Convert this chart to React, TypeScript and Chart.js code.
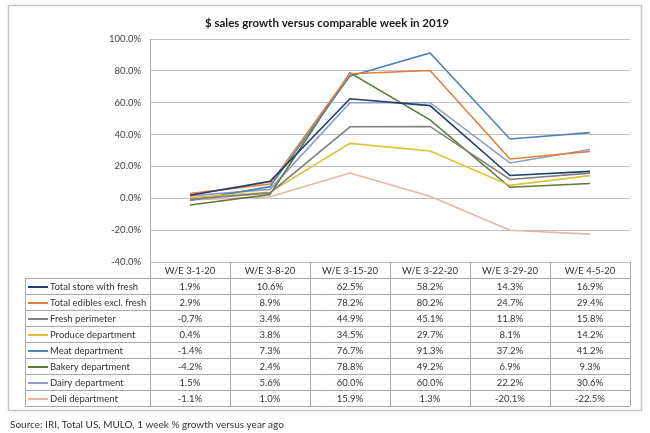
import React, { useEffect, useRef } from "react";
import { Chart, registerables } from "chart.js";

Chart.register(...registerables);

const title = "$ sales growth versus comparable week in 2019";
const source = "Source: IRI, Total US, MULO, 1 week % growth versus year ago";
const categories = ["W/E 3-1-20", "W/E 3-8-20", "W/E 3-15-20", "W/E 3-22-20", "W/E 3-29-20", "W/E 4-5-20"];

const seriesNames = [
  "Total store with fresh",
  "Total edibles excl. fresh",
  "Fresh perimeter",
  "Produce department",
  "Meat department",
  "Bakery department",
  "Dairy department",
  "Deli department",
];
const totalStore = [1.9, 10.6, 62.5, 58.2, 14.3, 16.9];
const totalEdibles = [2.9, 8.9, 78.2, 80.2, 24.7, 29.4];
const freshPerimeter = [-0.7, 3.4, 44.9, 45.1, 11.8, 15.8];
const produce = [0.4, 3.8, 34.5, 29.7, 8.1, 14.2];
const meat = [-1.4, 7.3, 76.7, 91.3, 37.2, 41.2];
const bakery = [-4.2, 2.4, 78.8, 49.2, 6.9, 9.3];
const dairy = [1.5, 5.6, 60.0, 60.0, 22.2, 30.6];
const deli = [-1.1, 1.0, 15.9, 1.3, -20.1, -22.5];
const seriesValues = [totalStore, totalEdibles, freshPerimeter, produce, meat, bakery, dairy, deli];
const seriesColors = ["#223d6e", "#E27D3A", "#808080", "#DCC23A", "#4F84BA", "#5B7B3A", "#8E9DC8", "#E3B5A2"];

const yMin = -40;
const yMax = 100;
const yStep = 20;

const FONT = "Lato, 'Open Sans', sans-serif";

export default function App() {
  const ref = useRef<HTMLCanvasElement | null>(null);

  useEffect(() => {
    if (!ref.current) return;
    const headerH = 16;
    const rowH = 16;
    const legendLeft = 25;

    const framePlugin = {
      id: "frame",
      beforeDraw(chart: any) {
        const { ctx } = chart;
        ctx.save();
        ctx.fillStyle = "#ffffff";
        ctx.fillRect(0, 0, chart.width, chart.height);
        ctx.restore();
      },
      afterDraw(chart: any) {
        const { ctx, chartArea } = chart;
        const x = chart.scales.x;
        const left = chartArea.left;
        const right = chartArea.right;
        const colW = (right - left) / categories.length;
        const top = chartArea.bottom;
        const headerBottom = top + headerH;
        const tableBottom = headerBottom + rowH * seriesNames.length;
        ctx.save();
        // outer frame
        ctx.strokeStyle = "#c6c6c6";
        ctx.lineWidth = 1.5;
        ctx.strokeRect(8.5, 5.5, 633, tableBottom + 4 - 5);
        // title
        ctx.fillStyle = "#1a1a1a";
        ctx.font = `bold 11.5px ${FONT}`;
        ctx.textAlign = "center";
        ctx.textBaseline = "middle";
        ctx.fillText(title, 327, 23);
        // table lines
        ctx.strokeStyle = "#a8a8a8";
        ctx.lineWidth = 1;
        ctx.beginPath();
        ctx.moveTo(left, headerBottom + 0.5);
        ctx.lineTo(right, headerBottom + 0.5);
        for (let r = 0; r < seriesNames.length; r++) {
          const yy = Math.round(headerBottom + rowH * (r + 1)) + 0.5;
          ctx.moveTo(legendLeft, yy);
          ctx.lineTo(right, yy);
        }
        ctx.moveTo(legendLeft, headerBottom + 0.5);
        ctx.lineTo(left, headerBottom + 0.5);
        ctx.moveTo(legendLeft + 0.5, headerBottom);
        ctx.lineTo(legendLeft + 0.5, tableBottom);
        for (let c = 0; c <= categories.length; c++) {
          const xx = Math.round(left + c * colW) + 0.5;
          ctx.moveTo(xx, top);
          ctx.lineTo(xx, tableBottom);
        }
        ctx.stroke();
        // header text
        ctx.fillStyle = "#333333";
        ctx.font = `9.5px ${FONT}`;
        ctx.textAlign = "center";
        categories.forEach((c, i) => {
          ctx.fillText(c, x.getPixelForValue(i), top + headerH / 2 + 1);
        });
        // rows
        seriesNames.forEach((name, r) => {
          const cy = headerBottom + rowH * r + rowH / 2 + 1;
          ctx.strokeStyle = seriesColors[r];
          ctx.lineWidth = 2;
          ctx.beginPath();
          ctx.moveTo(legendLeft + 3, cy);
          ctx.lineTo(legendLeft + 23, cy);
          ctx.stroke();
          ctx.fillStyle = "#333333";
          ctx.textAlign = "left";
          ctx.fillText(name, legendLeft + 25, cy);
          ctx.textAlign = "center";
          seriesValues[r].forEach((v, i) => {
            ctx.fillText(v.toFixed(1) + "%", x.getPixelForValue(i), cy);
          });
        });
        // source
        ctx.textAlign = "left";
        ctx.fillStyle = "#333333";
        ctx.font = `10px ${FONT}`;
        ctx.fillText(source, 10, 425);
        ctx.restore();
      },
    };

    const chart = new Chart(ref.current, {
      type: "line",
      data: {
        labels: categories,
        datasets: seriesNames.map((name, i) => ({
          label: name,
          data: seriesValues[i],
          borderColor: seriesColors[i],
          backgroundColor: seriesColors[i],
          borderWidth: 1.6,
          pointRadius: 0,
          tension: 0,
          fill: false,
        })),
      },
      options: {
        animation: false,
        responsive: false,
        maintainAspectRatio: false,
        layout: { padding: { left: 0, right: 20, top: 39, bottom: 171 } },
        plugins: {
          legend: { display: false },
          title: { display: false },
          tooltip: { enabled: false },
        },
        scales: {
          x: {
            type: "category",
            display: false,
            offset: true,
          },
          y: {
            min: yMin,
            max: yMax,
            afterFit(scale: any) {
              scale.width = 150;
            },
            ticks: {
              stepSize: yStep,
              padding: 9,
              color: "#404040",
              font: { family: FONT, size: 9.5 },
              callback: (v: any) => Number(v).toFixed(1) + "%",
            },
            grid: { color: "#c0c0c0", lineWidth: 1, drawTicks: false },
            border: { display: true, color: "#a8a8a8", width: 1 },
          },
        },
      },
      plugins: [framePlugin],
    });
    return () => chart.destroy();
  }, []);

  return (
    <div style={{ position: "fixed", left: 0, top: 0, width: 650, height: 433 }}>
      <canvas ref={ref} width={650} height={433} style={{ width: 650, height: 433 }} />
    </div>
  );
}
